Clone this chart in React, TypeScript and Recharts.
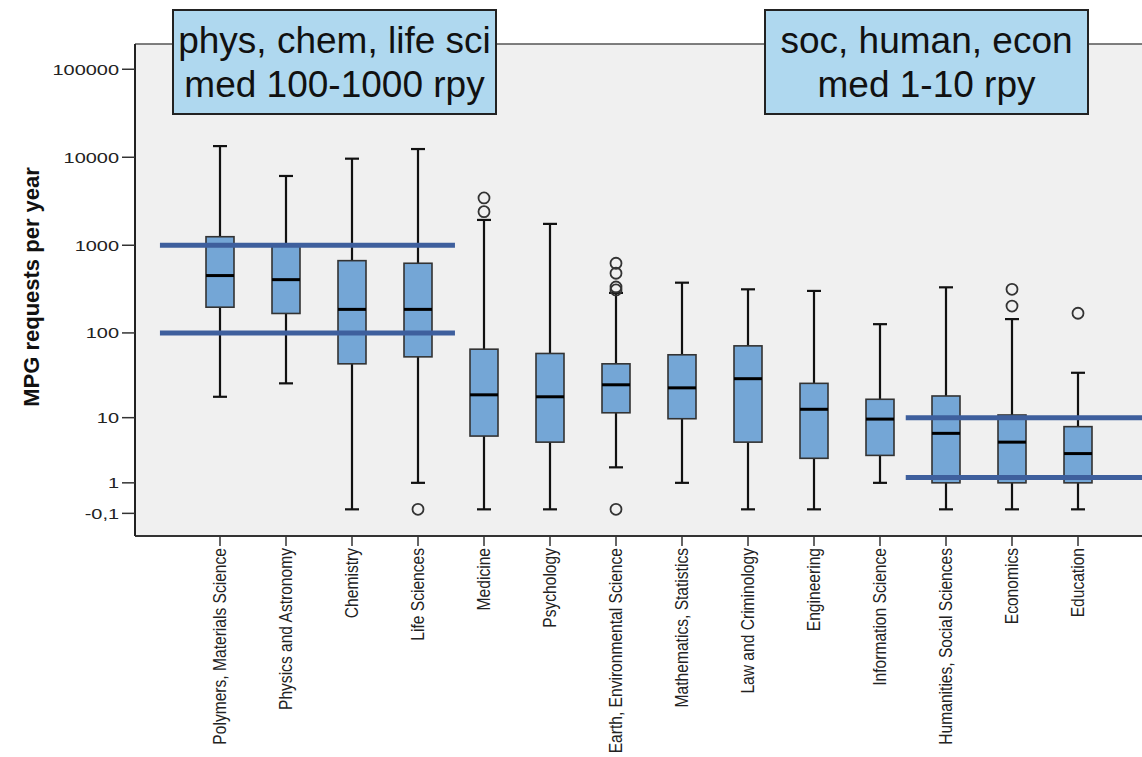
import { ComposedChart, Bar, XAxis, YAxis, CartesianGrid, ReferenceLine } from 'recharts';

const CATEGORIES = [
  'Polymers, Materials Science',
  'Physics and Astronomy',
  'Chemistry',
  'Life Sciences',
  'Medicine',
  'Psychology',
  'Earth, Environmental Science',
  'Mathematics, Statistics',
  'Law and Criminology',
  'Engineering',
  'Information Science',
  'Humanities, Social Sciences',
  'Economics',
  'Education',
];

// requests per year
const LOWER_WHISKER = [18, 26, 0, 1, 0, 0, 2, 1, 0, 0, 1, 0, 0, 0];
const Q1 = [197, 167, 44, 53, 5.8, 4.8, 11.5, 9.7, 4.8, 2.8, 3.1, 1, 1, 1];
const MEDIAN = [452, 406, 186, 186, 19, 18, 25, 23, 29.5, 12.7, 9.6, 6.3, 4.8, 3.3];
const Q3 = [1250, 1025, 668, 624, 65, 58, 44, 56, 71, 26, 16.8, 18.4, 10.8, 7.7];
const UPPER_WHISKER = [13400, 6130, 9640, 12400, 1940, 1750, 287, 375, 315, 302, 126, 332, 144, 34.6];
const OUTLIERS = [[], [], [], [0], [2410, 3450], [], [0, 310, 335, 480, 624], [], [], [], [], [], [203, 315], [168]];

const TICK_VALUES = [100000, 10000, 1000, 100, 10, 1, -0.1];
const TICK_LABELS = ['100000', '10000', '1000', '100', '10', '1', '-0,1'];

// blue guide lines: [value, from (category index, fractional), to]
const GUIDES: [number, number, number][] = [
  [1000, -0.91, 3.56],
  [100, -0.91, 3.56],
  [10, 10.39, 14.3],
  [1.3, 10.39, 14.3],
];

const NOTE_LEFT = ['phys, chem, life sci', 'med 100-1000 rpy'];
const NOTE_RIGHT = ['soc, human, econ', 'med 1-10 rpy'];

const toAxis = (v: number) => Math.log10(v + 1);

const Y_MIN = -0.303;
const Y_MAX = 5.287;
const PAD = 52;
const FONT = "'Liberation Sans', Arial, sans-serif";

const data = CATEGORIES.map((name, i) => ({
  name,
  range: [toAxis(LOWER_WHISKER[i]), toAxis(UPPER_WHISKER[i])],
  q1: toAxis(Q1[i]),
  median: toAxis(MEDIAN[i]),
  q3: toAxis(Q3[i]),
  outliers: OUTLIERS[i].map(toAxis),
}));

const BoxShape = (props: any) => {
  const { x, y, width, height, payload } = props;
  const [lo, hi] = payload.range;
  const top = Math.min(y, y + height);
  const bottom = Math.max(y, y + height);
  const py = (t: number) => top + ((hi - t) / (hi - lo)) * (bottom - top);
  const cx = x + width / 2;
  const cap = 7;
  return (
    <g>
      <line x1={cx} x2={cx} y1={top} y2={bottom} stroke="#111" strokeWidth={2.2} />
      <line x1={cx - cap} x2={cx + cap} y1={top} y2={top} stroke="#111" strokeWidth={2.2} />
      <line x1={cx - cap} x2={cx + cap} y1={bottom} y2={bottom} stroke="#111" strokeWidth={2.2} />
      <rect
        x={x}
        y={py(payload.q3)}
        width={width}
        height={py(payload.q1) - py(payload.q3)}
        fill="#74a6d6"
        stroke="#333"
        strokeWidth={1.6}
      />
      <line x1={x} x2={x + width} y1={py(payload.median)} y2={py(payload.median)} stroke="#000" strokeWidth={3} />
      {payload.outliers.map((o: number, k: number) => (
        <circle key={k} cx={cx} cy={py(o)} r={5.5} fill="none" stroke="#333" strokeWidth={1.8} />
      ))}
    </g>
  );
};

// line between two category centres, stretched by fractional steps
const makeGuideShape = (from: number, to: number, a: number, b: number) => (props: any) => {
  const { x1, x2, y1 } = props;
  const step = (x2 - x1) / (b - a);
  const start = x1 + (from - a) * step;
  const end = x2 + (to - b) * step;
  return <line x1={start} x2={end} y1={y1} y2={y1} stroke="#3e5f9d" strokeWidth={5} />;
};

const XTick = ({ x, y, payload }: any) => (
  <text
    x={0}
    y={0}
    dy="0.35em"
    transform={`translate(${x},${y}) rotate(-90) scale(1,1.15)`}
    textAnchor="end"
    fontSize={15.6}
    fontFamily={FONT}
    fill="#222"
  >
    {payload.value}
  </text>
);

const YTick = ({ x, y, payload }: any) => {
  const idx = TICK_VALUES.findIndex((v) => Math.abs(toAxis(v) - payload.value) < 1e-6);
  return (
    <text
      x={0}
      y={0}
      dy="0.36em"
      transform={`translate(${x},${y}) scale(1.33,1)`}
      textAnchor="end"
      fontSize={15}
      fontFamily={FONT}
      fill="#222"
    >
      {idx >= 0 ? TICK_LABELS[idx] : ''}
    </text>
  );
};

const YLabel = () => (
  <text
    x={0}
    y={0}
    dy="0.35em"
    transform="translate(31,287) rotate(-90)"
    textAnchor="middle"
    fontSize={22}
    fontWeight="bold"
    fontFamily={FONT}
    fill="#111"
  >
    MPG requests per year
  </text>
);

const noteStyle = (left: number): React.CSSProperties => ({
  position: 'absolute',
  left,
  top: 9,
  width: 321,
  height: 94,
  paddingTop: 8,
  boxSizing: 'content-box',
  border: '2px solid #222',
  background: '#afd8ef',
  fontFamily: FONT,
  fontSize: 37,
  lineHeight: '44px',
  textAlign: 'center',
  color: '#111',
  whiteSpace: 'nowrap',
});

export default function App() {
  const last = CATEGORIES.length - 1;
  return (
    <div style={{ position: 'absolute', left: 0, top: 0, width: 1142, height: 757, overflow: 'hidden', background: '#fff' }}>
      <ComposedChart width={1200} height={757} data={data} margin={{ top: 44, right: 37, bottom: 0, left: 0 }}>
        <CartesianGrid horizontal={false} vertical={false} fill="#f0f0f0" />
        <XAxis
          dataKey="name"
          type="category"
          interval={0}
          padding={{ left: PAD, right: PAD }}
          height={221}
          tick={<XTick />}
          tickSize={10}
          tickMargin={2}
          axisLine={{ stroke: '#333', strokeWidth: 2 }}
          tickLine={{ stroke: '#333', strokeWidth: 1.5 }}
        />
        <YAxis
          type="number"
          domain={[Y_MIN, Y_MAX]}
          allowDataOverflow
          ticks={TICK_VALUES.map(toAxis)}
          interval={0}
          width={135}
          tick={<YTick />}
          tickSize={13}
          tickMargin={3}
          axisLine={{ stroke: '#222', strokeWidth: 2 }}
          tickLine={{ stroke: '#333', strokeWidth: 1.5 }}
          label={<YLabel />}
        />
        <ReferenceLine y={Y_MAX} stroke="#555" strokeWidth={1.5} />
        <Bar dataKey="range" barSize={28} shape={<BoxShape />} isAnimationActive={false} />
        {GUIDES.map(([v, from, to], i) => {
          const a = Math.max(0, Math.ceil(from));
          const b = Math.min(last, Math.floor(to));
          return (
            <ReferenceLine
              key={i}
              segment={[
                { x: CATEGORIES[a], y: toAxis(v) },
                { x: CATEGORIES[b], y: toAxis(v) },
              ]}
              ifOverflow="visible"
              shape={makeGuideShape(from, to, a, b)}
            />
          );
        })}
      </ComposedChart>
      <div style={noteStyle(172)}>
        {NOTE_LEFT.map((l) => (
          <div key={l}>{l}</div>
        ))}
      </div>
      <div style={noteStyle(764)}>
        {NOTE_RIGHT.map((l) => (
          <div key={l}>{l}</div>
        ))}
      </div>
    </div>
  );
}
